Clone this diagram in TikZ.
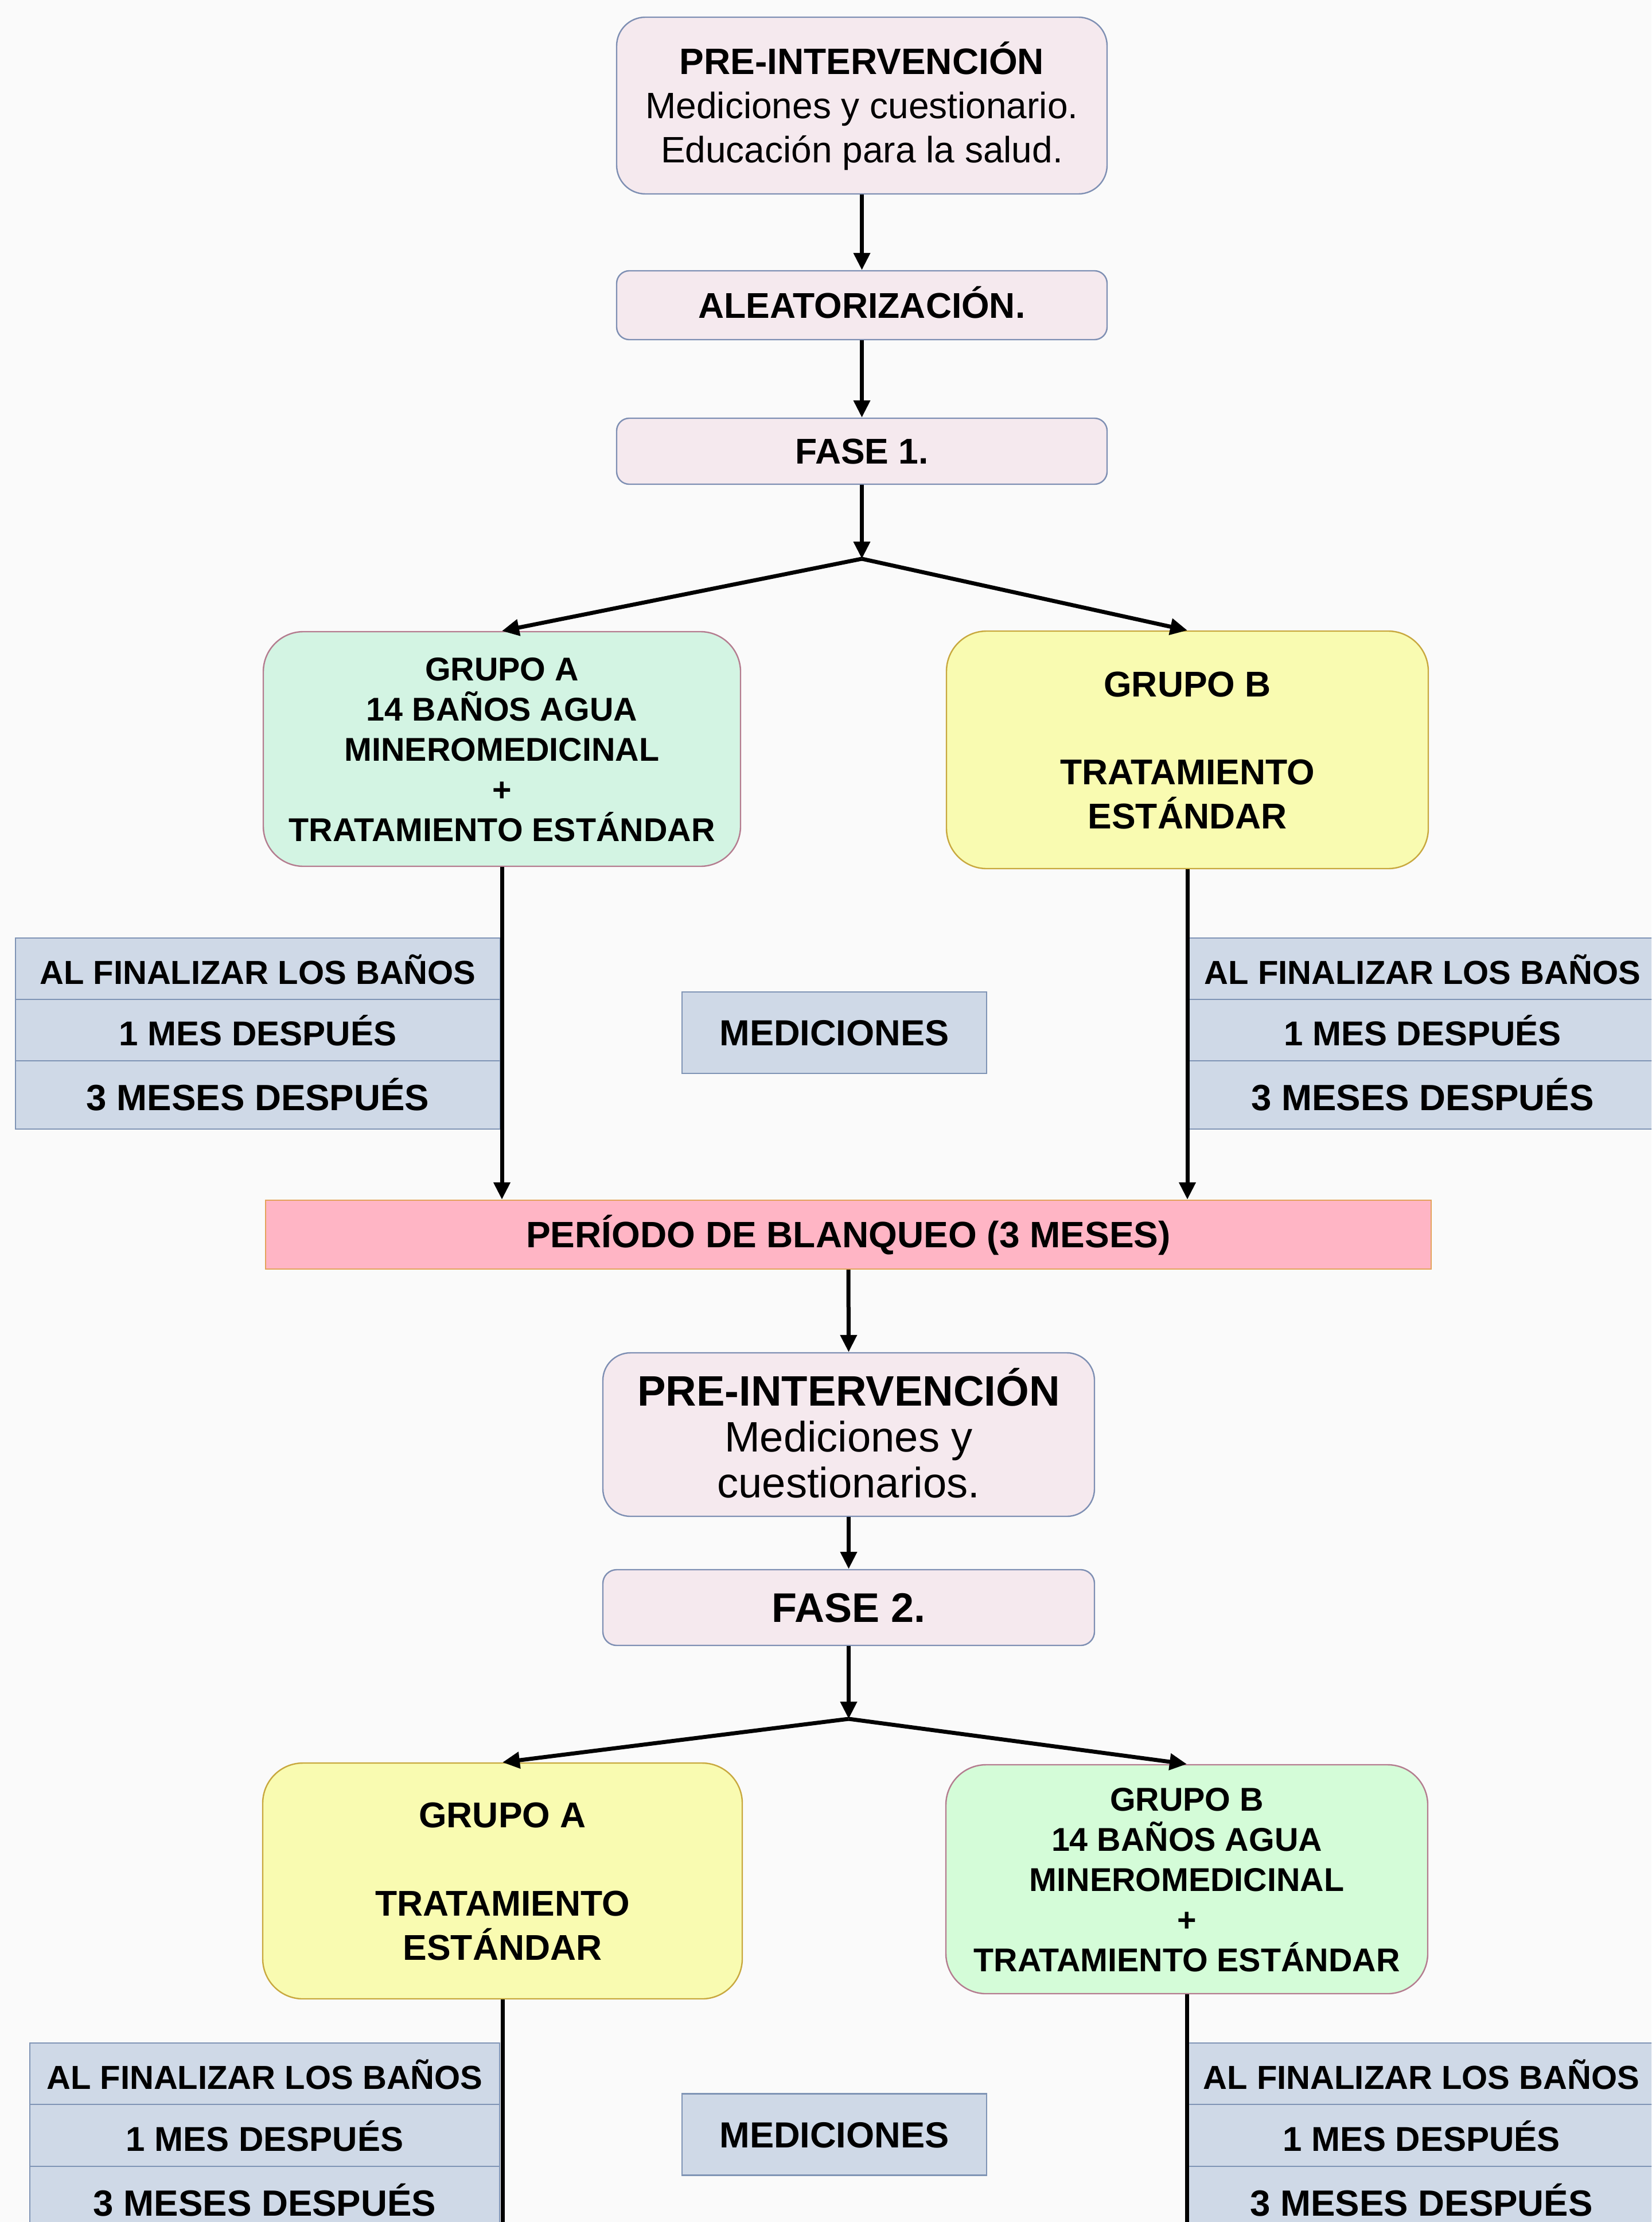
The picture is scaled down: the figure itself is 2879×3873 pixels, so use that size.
\documentclass[tikz,border=0pt]{standalone}
\usepackage{fontspec}
\setmainfont{Liberation Sans}
\usetikzlibrary{arrows.meta}
\definecolor{bgc}{RGB}{250,250,250}
\definecolor{pinkF}{RGB}{245,233,238}
\definecolor{pinkD}{RGB}{126,143,179}
\definecolor{mintF}{RGB}{211,244,227}
\definecolor{mintD}{RGB}{180,124,143}
\definecolor{limeF}{RGB}{212,252,216}
\definecolor{yelF}{RGB}{249,251,177}
\definecolor{yelD}{RGB}{200,168,62}
\definecolor{bluF}{RGB}{207,217,231}
\definecolor{bluD}{RGB}{127,148,181}
\definecolor{roseF}{RGB}{255,181,197}
\definecolor{roseD}{RGB}{227,162,90}
\newcommand\fsz[2]{\fontsize{#1}{#2}\selectfont}
\begin{document}
\begin{tikzpicture}[x=0.25pt,y=-0.25pt,
  box/.style={draw, line width=0.6pt, inner sep=0pt, align=center, anchor=center},
  pinkbox/.style={box, fill=pinkF, draw=pinkD},
  grpbox/.style={box, rounded corners=17.5pt},
  cellbox/.style={box, fill=bluF, draw=bluD, text height=13.5pt, text depth=0pt},
  medbox/.style={box, fill=bluF, draw=bluD, minimum width=132.75pt, minimum height=35.5pt,
                 font=\fsz{15.8}{19}\bfseries, text height=11.3pt, text depth=0pt},
  conn/.style={line width=1.75pt, -{Triangle[length=7.5pt,width=7pt]}},
  plainline/.style={line width=1.75pt},
]
\useasboundingbox (0,0) rectangle (2879,3873);
\clip (0,0) rectangle (2879,3873);
\fill[bgc] (0,0) rectangle (2879,3873);

% ---------- top part ----------
\node[pinkbox, rounded corners=12.5pt, minimum width=213.75pt, minimum height=77pt,
      font=\fsz{16}{19.25}, text height=49.96pt, text depth=0pt] (pre1) at (1502.5,184)
  {{\bfseries PRE-INTERVENCIÓN}\\Mediciones y cuestionario.\\Educación para la salud.};
\node[pinkbox, rounded corners=5.5pt, minimum width=213.75pt, minimum height=30pt,
      font=\fsz{15.6}{18}\bfseries, text height=11.2pt, text depth=0pt] (alea) at (1502.5,532)
  {ALEATORIZACIÓN.};
\node[pinkbox, rounded corners=5.5pt, minimum width=213.75pt, minimum height=28.75pt,
      font=\fsz{15.6}{18}\bfseries, text height=11.2pt, text depth=0pt] (fase1) at (1502.5,786.5)
  {FASE 1.};

\node[grpbox, fill=mintF, draw=mintD, minimum width=208pt, minimum height=102.25pt,
      font=\fsz{14.35}{17.5}\bfseries, text height=80.27pt, text depth=0pt] (gA1) at (875,1305.5)
  {GRUPO A\\14 BAÑOS AGUA\\MINEROMEDICINAL\\+\\TRATAMIENTO ESTÁNDAR};
\node[grpbox, fill=yelF, draw=yelD, minimum width=210pt, minimum height=103.5pt,
      font=\fsz{15.6}{19.2}\bfseries, text height=68.77pt, text depth=0pt] (gB1) at (2070,1307)
  {GRUPO B\\[19.2pt]TRATAMIENTO\\ESTÁNDAR};

% tables, phase 1
\node[cellbox, minimum width=211.25pt, minimum height=26.75pt, font=\fsz{14.5}{17}\bfseries] (l1a) at (449.5,1688.5) {AL FINALIZAR LOS BAÑOS};
\node[cellbox, minimum width=211.25pt, minimum height=26.75pt, font=\fsz{15}{18}\bfseries] (l1b) at (449.5,1795.5) {1 MES DESPUÉS};
\node[cellbox, minimum width=211.25pt, minimum height=29.75pt, font=\fsz{15.9}{19}\bfseries] (l1c) at (449.5,1908.5) {3 MESES DESPUÉS};
\node[cellbox, minimum width=205pt, minimum height=26.75pt, font=\fsz{14.5}{17}\bfseries] (r1a) at (2480,1688.5) {AL FINALIZAR LOS BAÑOS};
\node[cellbox, minimum width=205pt, minimum height=26.75pt, font=\fsz{15}{18}\bfseries] (r1b) at (2480,1795.5) {1 MES DESPUÉS};
\node[cellbox, minimum width=205pt, minimum height=29.75pt, font=\fsz{15.9}{19}\bfseries] (r1c) at (2480,1908.5) {3 MESES DESPUÉS};
\node[medbox] (med1) at (1454.5,1800) {MEDICIONES};

\node[box, fill=roseF, draw=roseD, minimum width=508pt, minimum height=30pt,
      font=\fsz{16}{19}\bfseries, text height=11.46pt, text depth=0pt] (blanq) at (1479,2152)
  {PERÍODO DE BLANQUEO (3 MESES)};

% ---------- second part ----------
\node[pinkbox, rounded corners=12pt, minimum width=214.25pt, minimum height=71.25pt,
      font=\fsz{18.55}{20}, text height=54.78pt, text depth=0pt] (pre2) at (1479.5,2500.5)
  {{\bfseries PRE-INTERVENCIÓN}\\Mediciones y\\cuestionarios.};
\node[pinkbox, rounded corners=6pt, minimum width=214.25pt, minimum height=33pt,
      font=\fsz{18}{21}\bfseries, text height=12.9pt, text depth=0pt] (fase2) at (1479.5,2802)
  {FASE 2.};

\node[grpbox, fill=yelF, draw=yelD, minimum width=209pt, minimum height=102.75pt,
      font=\fsz{15.6}{19.2}\bfseries, text height=68.77pt, text depth=0pt] (gA2) at (876,3278.5)
  {GRUPO A\\[19.2pt]TRATAMIENTO\\ESTÁNDAR};
\node[grpbox, fill=limeF, draw=mintD, minimum width=210pt, minimum height=99.75pt,
      font=\fsz{14.35}{17.5}\bfseries, text height=80.27pt, text depth=0pt] (gB2) at (2069,3275.5)
  {GRUPO B\\14 BAÑOS AGUA\\MINEROMEDICINAL\\+\\TRATAMIENTO ESTÁNDAR};

% tables, phase 2
\node[cellbox, minimum width=204.75pt, minimum height=26.75pt, font=\fsz{14.5}{17}\bfseries] (l2a) at (461.5,3614.5) {AL FINALIZAR LOS BAÑOS};
\node[cellbox, minimum width=204.75pt, minimum height=27pt, font=\fsz{15}{18}\bfseries] (l2b) at (461.5,3722) {1 MES DESPUÉS};
\node[cellbox, minimum width=204.75pt, minimum height=29.75pt, font=\fsz{15.9}{19}\bfseries] (l2c) at (461.5,3835.5) {3 MESES DESPUÉS};
\node[cellbox, minimum width=205pt, minimum height=26.75pt, font=\fsz{14.5}{17}\bfseries] (r2a) at (2478,3614.5) {AL FINALIZAR LOS BAÑOS};
\node[cellbox, minimum width=205pt, minimum height=27pt, font=\fsz{15}{18}\bfseries] (r2b) at (2478,3722) {1 MES DESPUÉS};
\node[cellbox, minimum width=205pt, minimum height=29.75pt, font=\fsz{15.9}{19}\bfseries] (r2c) at (2478,3835.5) {3 MESES DESPUÉS};
\node[medbox] (med2) at (1454.5,3720.5) {MEDICIONES};

% ---------- connectors ----------
\coordinate (sp1) at (1502.5,974);
\coordinate (sp2) at (1479.5,2996);
\coordinate (endA) at (876,3900);
\coordinate (endB) at (2069,3900);

\draw[conn] (pre1.south) -- (alea.north);
\draw[conn] (alea.south) -- (fase1.north);
\draw[conn] (fase1.south) -- (sp1);
\draw[conn] (sp1) -- (gA1.north);
\draw[conn] (sp1) -- (gB1.north);
\draw[conn] (gA1.south) -- (gA1.south |- blanq.north);
\draw[conn] (gB1.south) -- (gB1.south |- blanq.north);
\draw[conn] (blanq.south) -- (pre2.north);
\draw[conn] (pre2.south) -- (fase2.north);
\draw[conn] (fase2.south) -- (sp2);
\draw[conn] (sp2) -- (gA2.north);
\draw[conn] (sp2) -- (gB2.north);
\draw[plainline] (gA2.south) -- (endA);
\draw[plainline] (gB2.south) -- (endB);
\end{tikzpicture}
\end{document}
